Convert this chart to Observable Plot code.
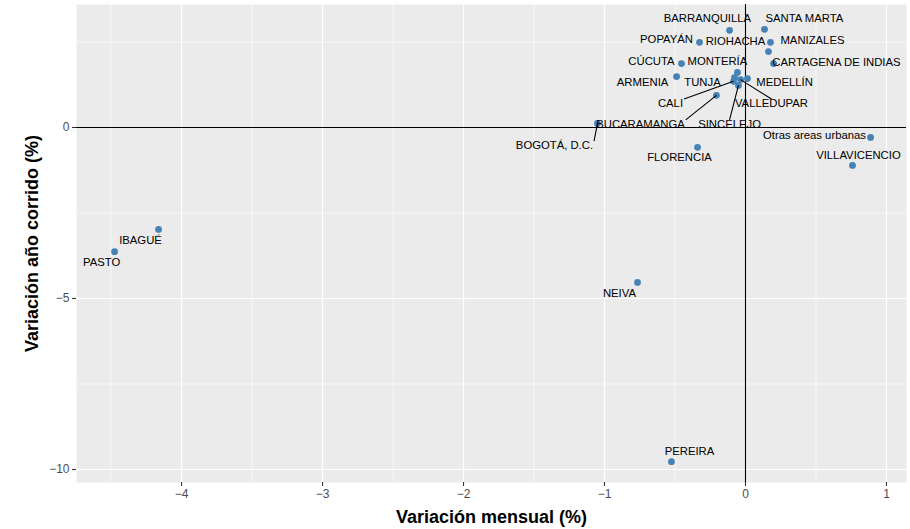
<!DOCTYPE html>
<html><head><meta charset="utf-8">
<script src="https://cdn.jsdelivr.net/npm/d3@7"></script>
<script src="https://cdn.jsdelivr.net/npm/@observablehq/plot@0.6"></script>
<style>body{margin:0;background:#fff} #chart svg{display:block}</style>
</head><body><div id="chart"></div>
<script>
// ---- Data ----
const ciudades = ["BARRANQUILLA","SANTA MARTA","POPAYÁN","MANIZALES","RIOHACHA","CARTAGENA DE INDIAS","CÚCUTA","ARMENIA","MONTERÍA","TUNJA","CALI","VALLEDUPAR","SINCELEJO","MEDELLÍN","BUCARAMANGA","BOGOTÁ, D.C.","Otras areas urbanas","VILLAVICENCIO","FLORENCIA","IBAGUÉ","PASTO","NEIVA","PEREIRA"];
const variacionMensual = [-0.113,0.135,-0.326,0.177,0.163,0.199,-0.454,-0.489,-0.057,-0.078,-0.085,-0.035,-0.050,0.014,-0.206,-1.050,0.887,0.759,-0.340,-4.163,-4.475,-0.766,-0.525];
const variacionAnoCorrido = [2.84,2.87,2.49,2.49,2.22,1.87,1.87,1.49,1.61,1.46,1.35,1.40,1.23,1.43,0.94,0.12,-0.29,-1.11,-0.58,-2.98,-3.63,-4.53,-9.77];
// repelled label positions (data units), as placed in the reference
const etiquetaX = [-0.270,0.418,-0.560,0.475,-0.071,0.645,-0.667,-0.730,-0.199,-0.305,-0.532,0.184,-0.113,0.277,-0.745,-1.355,0.489,0.801,-0.468,-4.291,-4.567,-0.894,-0.397];
const etiquetaY = [3.19,3.19,2.57,2.54,2.51,1.90,1.93,1.32,1.93,1.32,0.70,0.70,0.09,1.32,0.09,-0.53,-0.23,-0.82,-0.88,-3.30,-3.95,-4.85,-9.47];
const conSegmento = ["BOGOTÁ, D.C.","BUCARAMANGA","CALI","SINCELEJO","VALLEDUPAR"];
const xTicks = [-4,-3,-2,-1,0,1];
const xMinor = [-4.5,-3.5,-2.5,-1.5,-0.5,0.5];
const yTicks = [0,-5,-10];
const yMinor = [2.5,-2.5,-7.5];
const tituloX = "Variación mensual (%)";
const tituloY = "Variación año corrido (%)";

// ---- Layout ----
const W = 910, H = 529, mL = 76, mR = 4, mT = 4, mB = 47;
const xDomain = [-4.745, 1.142], yDomain = [-10.38, 3.596];
const FONT = "'Liberation Sans', Arial, Helvetica, sans-serif";
const labelSize = 11.3;
const fmt = d3.format("d");

const rows = ciudades.map((c, i) => ({
  name: c, x: variacionMensual[i], y: variacionAnoCorrido[i], lx: etiquetaX[i], ly: etiquetaY[i]
}));

// segment endpoints (ggrepel-like connection to label box)
const xs = Plot.scale({x: {domain: xDomain, range: [mL, W - mR]}});
const ys = Plot.scale({y: {domain: yDomain, range: [H - mB, mT]}});
const ctx = document.createElement("canvas").getContext("2d");
ctx.font = `${labelSize}px ${FONT}`;
const segs = rows.filter(d => conSegmento.includes(d.name)).map(d => {
  const px = xs.apply(d.x), py = ys.apply(d.y);
  const cx = xs.apply(d.lx), cy = ys.apply(d.ly);
  const w = ctx.measureText(d.name).width;
  const bx1 = cx - w / 2 - 1, bx2 = cx + w / 2 + 1, by1 = cy - 4.5, by2 = cy + 4.5;
  const ex = px < bx1 ? bx1 : px > bx2 ? bx2 : cx;
  const ey = py < by1 ? by1 : py > by2 ? by2 : cy;
  return {x1: d.x, y1: d.y, x2: xs.invert(ex), y2: ys.invert(ey)};
});

const chart = Plot.plot({
  width: W, height: H,
  marginLeft: mL, marginRight: mR, marginTop: mT, marginBottom: mB,
  style: {fontFamily: FONT, background: "#fff"},
  x: {domain: xDomain, label: null},
  y: {domain: yDomain, label: null},
  marks: [
    Plot.frame({fill: "#EBEBEB", stroke: null}),
    Plot.ruleX(xMinor, {stroke: "#fff", strokeWidth: 0.6}),
    Plot.ruleY(yMinor, {stroke: "#fff", strokeWidth: 0.6}),
    Plot.ruleX(xTicks, {stroke: "#fff", strokeWidth: 1.2}),
    Plot.ruleY(yTicks, {stroke: "#fff", strokeWidth: 1.2}),
    Plot.ruleY([0], {stroke: "#000", strokeWidth: 1.1}),
    Plot.ruleX([0], {stroke: "#000", strokeWidth: 1.1}),
    Plot.axisX(xTicks, {tickSize: 4, tickPadding: 3, fontSize: 12, tickFormat: fmt, stroke: "#333", fill: "#4D4D4D", strokeWidth: 1.1, label: null}),
    Plot.axisY(yTicks, {tickSize: 4, tickPadding: 3, fontSize: 12, tickFormat: fmt, stroke: "#333", fill: "#4D4D4D", strokeWidth: 1.1, label: null}),
    Plot.dot(rows, {x: "x", y: "y", r: 3.4, fill: "#4682B4"}),
    Plot.link(segs, {x1: "x1", y1: "y1", x2: "x2", y2: "y2", stroke: "#000", strokeWidth: 1.1}),
    Plot.text(rows, {x: "lx", y: "ly", text: "name", fontSize: labelSize, fill: "#000"}),
    Plot.text([tituloX], {frameAnchor: "bottom", dy: 35, lineAnchor: "middle", textAnchor: "middle", text: d => d, fontSize: 18, fontWeight: "bold", fill: "#000"}),
    Plot.text([tituloY], {frameAnchor: "left", dx: -44, rotate: -90, lineAnchor: "middle", textAnchor: "middle", text: d => d, fontSize: 18, fontWeight: "bold", fill: "#000"})
  ]
});
document.getElementById("chart").appendChild(chart);
</script>
</body></html>
